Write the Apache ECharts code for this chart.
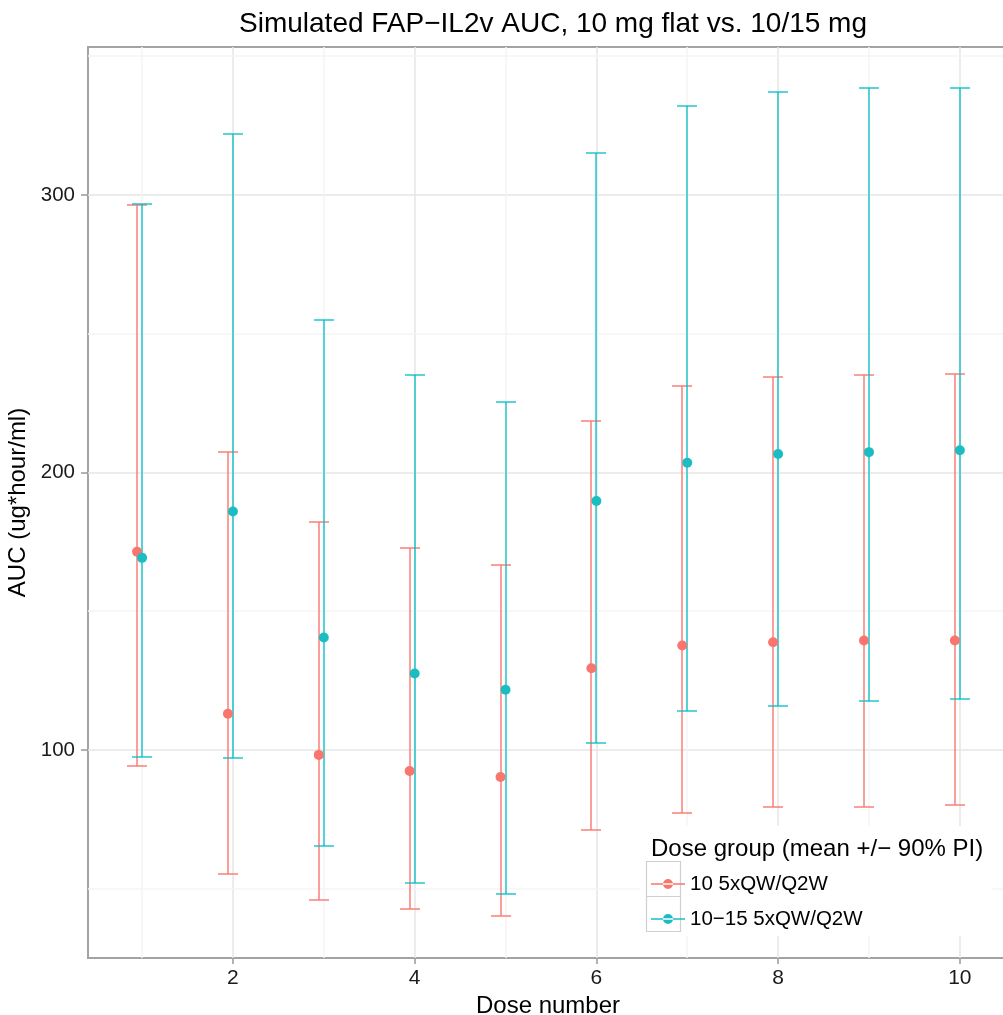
<!DOCTYPE html>
<html>
<head>
<meta charset="utf-8">
<script src="https://cdn.jsdelivr.net/npm/echarts@6/dist/echarts.min.js"></script>
<style>
  html, body { margin: 0; padding: 0; background: #fff; }
  #main { width: 1003px; height: 1015px; }
</style>
</head>
<body>
<div id="main"></div>
<script>
// dose numbers and the two groups (mean, 5th and 95th percentile)
const doses = [1, 2, 3, 4, 5, 6, 7, 8, 9, 10]
const groupNames = ['10 5xQW/Q2W', '10\u221215 5xQW/Q2W']

const redMean = [171.4, 113.0, 98.2, 92.4, 90.2, 129.4, 137.6, 138.8, 139.4, 139.4]
const redLow = [94.3, 55.2, 45.8, 42.7, 40.1, 71.1, 77.3, 79.5, 79.5, 80.2]
const redHigh = [296.2, 207.5, 182.1, 172.7, 166.8, 218.6, 231.3, 234.4, 235.0, 235.6]

const tealMean = [169.2, 185.9, 140.5, 127.5, 121.7, 189.7, 203.5, 206.6, 207.3, 208.0]
const tealLow = [97.5, 96.9, 65.3, 52.1, 48.2, 102.5, 113.9, 115.7, 117.7, 118.3]
const tealHigh = [296.6, 322.1, 255.0, 235.0, 225.5, 315.1, 332.2, 337.1, 338.4, 338.4]

const xTicks = [2, 4, 6, 8, 10]
const xMinor = [1, 3, 5, 7, 9]
const yTicks = [100, 200, 300]
const yMinor = [50, 150, 250, 350]

const dodge = 0.055 // first group sits slightly left of the dose
const capWidth = 0.21
const font = "'Liberation Sans', Arial, sans-serif"

const redX = doses.map(d => d - dodge)

function renderBar (params, api) {
  const x = api.value(0)
  const lo = api.coord([x, api.value(1)])
  const hi = api.coord([x, api.value(2)])
  const half = Math.round(api.size([capWidth, 0])[0] / 2)
  // snap to whole pixels so the 2px strokes stay crisp
  const cx = Math.round(lo[0])
  const y1 = Math.round(lo[1])
  const y2 = Math.round(hi[1])
  const style = { stroke: api.visual('color'), lineWidth: 2 }
  return {
    type: 'group',
    children: [
      { type: 'line', shape: { x1: cx, y1: y1, x2: cx, y2: y2 }, style: style },
      { type: 'line', shape: { x1: cx - half, y1: y1, x2: cx + half, y2: y1 }, style: style },
      { type: 'line', shape: { x1: cx - half, y1: y2, x2: cx + half, y2: y2 }, style: style }
    ]
  }
}

const chart = echarts.init(document.getElementById('main'))
chart.setOption({
  animation: false,
  backgroundColor: '#fff',
  textStyle: { fontFamily: font },
  title: [
    {
      text: 'Simulated FAP\u2212IL2v AUC, 10 mg flat vs. 10/15 mg',
      left: 548,
      top: 5,
      textAlign: 'center',
      textStyle: { fontFamily: font, fontSize: 28, fontWeight: 'normal', color: '#000' },
      z: 20
    },
    {
      text: 'Dose group (mean +/\u2212 90% PI)',
      left: 646,
      top: 832,
      textStyle: { fontFamily: font, fontSize: 24, fontWeight: 'normal', color: '#000' },
      z: 20
    }
  ],
  grid: {
    left: 88,
    top: 47,
    width: 920,
    height: 911,
    outerBoundsMode: 'none',
    containLabel: false,
    show: true,
    borderColor: '#a3a3a3',
    borderWidth: 2,
    backgroundColor: '#fff'
  },
  legend: {
    data: groupNames,
    orient: 'vertical',
    left: 646,
    top: 867,
    itemWidth: 34,
    itemHeight: 10,
    itemGap: 11,
    icon: 'path://M0,4.2 L34,4.2 L34,5.8 L0,5.8 Z M12,5 A5,5 0 1,0 22,5 A5,5 0 1,0 12,5 Z',
    textStyle: { fontFamily: font, fontSize: 20.5, color: '#000', lineHeight: 24 },
    z: 20
  },
  graphic: [
    { type: 'rect', z: 10, shape: { x: 640, y: 826, width: 352, height: 110 }, style: { fill: '#fff' } },
    { type: 'rect', z: 11, shape: { x: 646.5, y: 861.5, width: 34, height: 35 }, style: { fill: '#fff', stroke: '#cfcfcf', lineWidth: 1.2 } },
    { type: 'rect', z: 11, shape: { x: 646.5, y: 896.5, width: 34, height: 35 }, style: { fill: '#fff', stroke: '#cfcfcf', lineWidth: 1.2 } }
  ],
  xAxis: {
    type: 'value',
    min: 0.405,
    max: 10.53,
    name: 'Dose number',
    nameLocation: 'middle',
    nameGap: 30,
    nameTextStyle: { fontFamily: font, fontSize: 24, color: '#000' },
    axisLine: { show: false },
    axisTick: { show: true, length: 6, customValues: xTicks, lineStyle: { color: '#999', width: 1.5 } },
    axisLabel: { customValues: xTicks, margin: 10, fontFamily: font, fontSize: 21, color: '#1a1a1a' },
    splitLine: { show: true, lineStyle: { color: '#e6e6e6', width: 1.5 } }
  },
  yAxis: {
    type: 'value',
    min: 25,
    max: 353.3,
    name: 'AUC (ug*hour/ml)',
    nameLocation: 'middle',
    nameRotate: 90,
    nameGap: 53,
    nameTextStyle: { fontFamily: font, fontSize: 24, color: '#000' },
    axisLine: { show: false },
    axisTick: { show: true, length: 7, customValues: yTicks, lineStyle: { color: '#999', width: 1.5 } },
    axisLabel: { customValues: yTicks, margin: 13, fontFamily: font, fontSize: 20.5, color: '#1a1a1a' },
    splitLine: { show: true, lineStyle: { color: '#e6e6e6', width: 1.5 } }
  },
  series: [
    {
      name: groupNames[0],
      type: 'scatter',
      symbolSize: 10,
      z: 3,
      itemStyle: { color: '#F8766D', opacity: 1 },
      data: redX.map((x, i) => [x, redMean[i]])
    },
    {
      name: groupNames[1],
      type: 'scatter',
      symbolSize: 10,
      z: 3,
      itemStyle: { color: '#1CBDC2', opacity: 1 },
      data: doses.map((x, i) => [x, tealMean[i]])
    },
    {
      name: 'minor grid',
      type: 'line',
      data: [],
      z: 1,
      silent: true,
      markLine: {
        silent: true,
        z: 1,
        symbol: 'none',
        label: { show: false },
        lineStyle: { color: '#f5f5f5', width: 1.5, type: 'solid' },
        data: yMinor.map(v => ({ yAxis: v })).concat(xMinor.map(v => ({ xAxis: v })))
      }
    },
    {
      name: groupNames[0],
      type: 'custom',
      renderItem: renderBar,
      z: 2,
      itemStyle: { color: 'rgba(248,118,109,0.7)' },
      encode: { x: 0, y: [1, 2] },
      data: redX.map((x, i) => [x, redLow[i], redHigh[i]])
    },
    {
      name: groupNames[1],
      type: 'custom',
      renderItem: renderBar,
      z: 2,
      itemStyle: { color: 'rgba(0,191,196,0.65)' },
      encode: { x: 0, y: [1, 2] },
      data: doses.map((x, i) => [x, tealLow[i], tealHigh[i]])
    }
  ]
})
</script>
</body>
</html>
